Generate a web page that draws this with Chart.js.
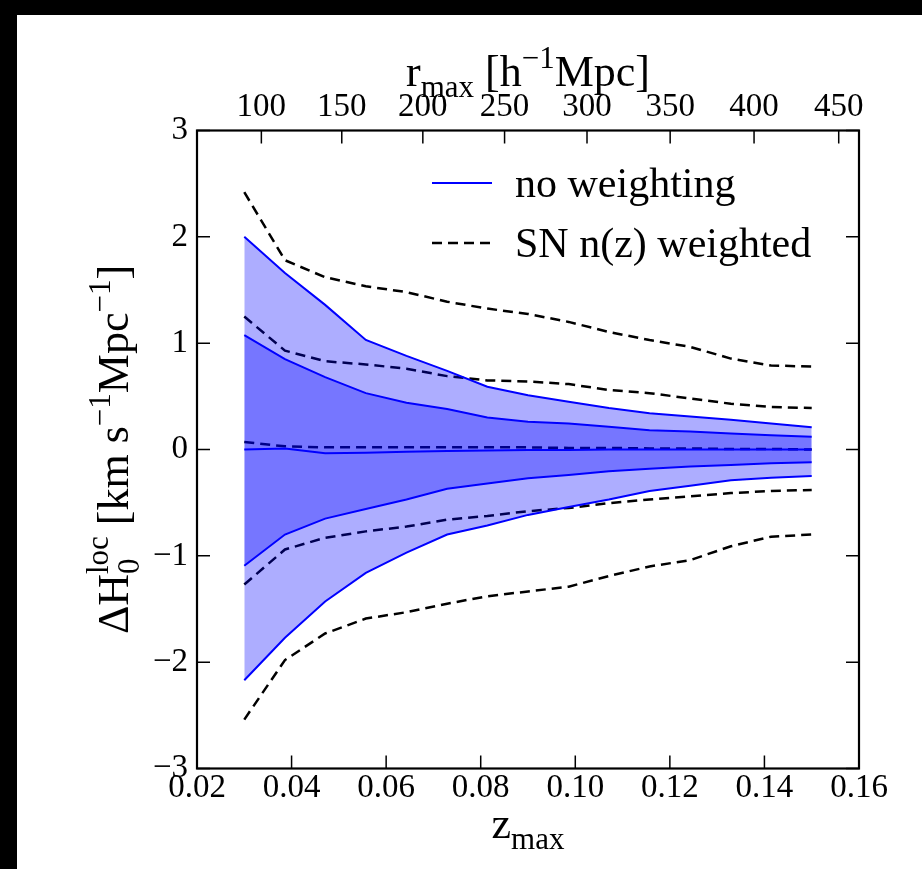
<!DOCTYPE html>
<html><head><meta charset="utf-8">
<script src="https://cdn.jsdelivr.net/npm/chart.js@4.4.1/dist/chart.umd.min.js"></script>
<style>
html,body{margin:0;padding:0;background:#000;width:922px;height:869px;overflow:hidden;}
#wrap{position:absolute;left:17px;top:15px;width:905px;height:854px;background:#fff;}
canvas{display:block;}
</style></head><body>
<div id="wrap"><canvas id="c" width="905" height="854"></canvas></div>
<script>
// ---- data ----
const zMax = [0.030,0.0386,0.0471,0.0557,0.0643,0.0729,0.0814,0.0900,0.0986,0.1071,0.1157,0.1243,0.1329,0.1414,0.150];
const noWeightOuterUpper = [2.00,1.66,1.36,1.03,0.88,0.74,0.59,0.51,0.45,0.39,0.34,0.31,0.28,0.245,0.21];
const noWeightInnerUpper = [1.075,0.85,0.68,0.53,0.44,0.38,0.30,0.26,0.245,0.215,0.18,0.17,0.15,0.135,0.12];
const noWeightMid        = [0.00,0.01,-0.035,-0.03,-0.02,-0.015,-0.01,-0.005,-0.005,0,0,0,0,0,0];
const noWeightInnerLower = [-1.094,-0.80,-0.65,-0.56,-0.47,-0.37,-0.32,-0.27,-0.24,-0.205,-0.18,-0.16,-0.145,-0.13,-0.12];
const noWeightOuterLower = [-2.17,-1.77,-1.43,-1.16,-0.97,-0.80,-0.715,-0.615,-0.54,-0.47,-0.39,-0.34,-0.29,-0.265,-0.25];
const snOuterUpper = [2.42,1.78,1.62,1.535,1.48,1.39,1.325,1.275,1.20,1.105,1.03,0.965,0.855,0.79,0.78];
const snInnerUpper = [1.25,0.93,0.83,0.80,0.76,0.69,0.65,0.64,0.615,0.56,0.53,0.48,0.43,0.40,0.39];
const snMid        = [0.07,0.03,0.02,0.02,0.02,0.02,0.02,0.02,0.015,0.015,0.01,0.01,0.005,0.005,0.0];
const snInnerLower = [-1.27,-0.94,-0.83,-0.77,-0.725,-0.66,-0.625,-0.58,-0.55,-0.505,-0.47,-0.44,-0.41,-0.39,-0.38];
const snOuterLower = [-2.54,-1.98,-1.73,-1.59,-1.53,-1.45,-1.38,-1.335,-1.29,-1.19,-1.10,-1.04,-0.91,-0.82,-0.80];
const zTicks = [0.02,0.04,0.06,0.08,0.10,0.12,0.14,0.16];
const yTicks = [-3,-2,-1,0,1,2,3];
const rTicks = [100,150,200,250,300,350,400,450];
const legendLabels = ['no weighting','SN n(z) weighted'];
const omegaM = 0.3;

// comoving distance r(z) in h^-1 Mpc (flat LCDM) and its inverse, for the top axis
function rOfZ(z){
  const n=200, h=z/n; let s=0;
  const f=x=>1/Math.sqrt(omegaM*Math.pow(1+x,3)+1-omegaM);
  for(let i=0;i<=n;i++){const w=(i===0||i===n)?1:(i%2?4:2); s+=w*f(i*h);}
  return 2997.92458*s*h/3;
}
function zOfR(r){let a=0,b=1;for(let i=0;i<60;i++){const m=(a+b)/2; if(rOfZ(m)<r)a=m; else b=m;}return (a+b)/2;}

const pts = arr => zMax.map((z,i)=>({x:z,y:arr[i]}));
const BLUE='#0000ff', FILL='rgba(0,0,255,0.32)';
const DASH=[10,6];
const solid = (arr, fill) => ({data:pts(arr), borderColor:BLUE, borderWidth:2, pointRadius:0, fill: fill?{target:'-1'}:false, backgroundColor:FILL, tension:0});
const dashed = arr => ({data:pts(arr), borderColor:'#000', borderWidth:2.5, borderDash:DASH, pointRadius:0, fill:false, tension:0});

const TICKFONT = {family:'Liberation Serif', size:33};
const SERIF = 'Liberation Serif';

function drawRich(ctx, segs, x, y, align, M, S){
  const fN = `${M}px "${SERIF}"`, fS = `${S}px "${SERIF}"`;
  let w=0; const widths=[];
  segs.forEach(s=>{
    let ww;
    if(s.k==='n'){ctx.font=fN; ww=ctx.measureText(s.t).width;}
    else if(s.k==='ss'){ctx.font=fS; ww=Math.max(ctx.measureText(s.sub).width, ctx.measureText(s.sup).width);}
    else {ctx.font=fS; ww=ctx.measureText(s.t).width;}
    widths.push(ww); w+=ww;
  });
  let cx = align==='center'? x-w/2 : x;
  ctx.textAlign='left'; ctx.textBaseline='alphabetic'; ctx.fillStyle='#000';
  segs.forEach((s,i)=>{
    if(s.k==='n'){ctx.font=fN; ctx.fillText(s.t,cx,y);}
    else if(s.k==='sub'){ctx.font=fS; ctx.fillText(s.t,cx,y+0.24*M);}
    else if(s.k==='sup'){ctx.font=fS; ctx.fillText(s.t,cx,y-0.42*M);}
    else {ctx.font=fS; ctx.fillText(s.sub,cx,y+0.24*M); ctx.fillText(s.sup,cx,y-0.45*M);}
    cx+=widths[i];
  });
}

const decor = {
  id:'decor',
  afterDraw(chart){
    const ctx=chart.ctx, ca=chart.chartArea, sx=chart.scales.x, sx2=chart.scales.x2, sy=chart.scales.y;
    ctx.save();
    // inward tick marks
    ctx.strokeStyle='#000'; ctx.lineWidth=1.5; const L=13;
    ctx.beginPath();
    sx.ticks.forEach(t=>{const p=sx.getPixelForValue(t.value); ctx.moveTo(p,ca.bottom); ctx.lineTo(p,ca.bottom-L);});
    sx2.ticks.forEach(t=>{const p=sx2.getPixelForValue(t.value); ctx.moveTo(p,ca.top); ctx.lineTo(p,ca.top+L);});
    sy.ticks.forEach(t=>{const p=sy.getPixelForValue(t.value); ctx.moveTo(ca.left,p); ctx.lineTo(ca.left+L,p); ctx.moveTo(ca.right,p); ctx.lineTo(ca.right-L,p);});
    ctx.stroke();
    // frame
    ctx.lineWidth=2.2; ctx.strokeRect(ca.left,ca.top,ca.right-ca.left,ca.bottom-ca.top);
    // legend
    const lx0=415, lx1=475;
    ctx.strokeStyle=BLUE; ctx.lineWidth=2; ctx.setLineDash([]);
    ctx.beginPath(); ctx.moveTo(lx0,168); ctx.lineTo(lx1,168); ctx.stroke();
    ctx.strokeStyle='#000'; ctx.lineWidth=2.5; ctx.setLineDash(DASH);
    ctx.beginPath(); ctx.moveTo(lx0,228); ctx.lineTo(lx1,228); ctx.stroke();
    ctx.setLineDash([]);
    ctx.fillStyle='#000'; ctx.font=`42px "${SERIF}"`; ctx.textAlign='left'; ctx.textBaseline='alphabetic';
    ctx.fillText(legendLabels[0],498,182);
    ctx.fillText(legendLabels[1],498,242);
    // axis titles
    const midX=(ca.left+ca.right)/2;
    drawRich(ctx,[{k:'n',t:'z'},{k:'sub',t:'max'}], midX, 823, 'center', 44, 31);
    drawRich(ctx,[{k:'n',t:'r'},{k:'sub',t:'max'},{k:'n',t:' [h'},{k:'sup',t:'\u22121'},{k:'n',t:'Mpc]'}], midX, 71, 'center', 44, 31);
    ctx.save(); ctx.translate(111,(ca.top+ca.bottom)/2); ctx.rotate(-Math.PI/2);
    drawRich(ctx,[{k:'n',t:'\u0394H'},{k:'ss',sub:'0',sup:'loc'},{k:'n',t:' [km s'},{k:'sup',t:'\u22121'},{k:'n',t:'Mpc'},{k:'sup',t:'\u22121'},{k:'n',t:']'}], 0, 0, 'center', 44, 31);
    ctx.restore();
    ctx.restore();
  }
};

new Chart(document.getElementById('c'), {
  type:'line',
  data:{datasets:[
    solid(noWeightOuterLower,false),
    solid(noWeightOuterUpper,true),
    solid(noWeightInnerLower,false),
    solid(noWeightInnerUpper,true),
    solid(noWeightMid,false),
    dashed(snOuterUpper), dashed(snInnerUpper), dashed(snMid), dashed(snInnerLower), dashed(snOuterLower)
  ]},
  options:{
    responsive:false, animation:false,
    layout:{padding:{left:0,right:63,top:0,bottom:0}},
    plugins:{legend:{display:false}, tooltip:{enabled:false}},
    scales:{
      x:{type:'linear', position:'bottom', min:0.02, max:0.16,
         afterBuildTicks:s=>{s.ticks=zTicks.map(v=>({value:v}));},
         afterFit:s=>{s.height=100.5;},
         ticks:{font:TICKFONT, color:'#000', padding:0, maxRotation:0, autoSkip:false, callback:v=>v.toFixed(2)},
         grid:{display:false, drawTicks:false}, border:{display:false}},
      x2:{type:'linear', position:'top', min:0.02, max:0.16,
         afterBuildTicks:s=>{s.ticks=rTicks.map(r=>({value:zOfR(r)}));},
         afterFit:s=>{s.height=115.5;},
         ticks:{font:TICKFONT, color:'#000', padding:3, maxRotation:0, autoSkip:false, callback:(v,i)=>String(rTicks[i])},
         grid:{display:false, drawTicks:false}, border:{display:false}},
      y:{type:'linear', position:'left', min:-3, max:3,
         afterBuildTicks:s=>{s.ticks=yTicks.map(v=>({value:v}));},
         afterFit:s=>{s.width=180;},
         ticks:{font:TICKFONT, color:'#000', padding:9, callback:v=>(v<0?'\u2212':'')+Math.abs(v)},
         grid:{display:false, drawTicks:false}, border:{display:false}}
    }
  },
  plugins:[decor]
});
</script>
</body></html>
